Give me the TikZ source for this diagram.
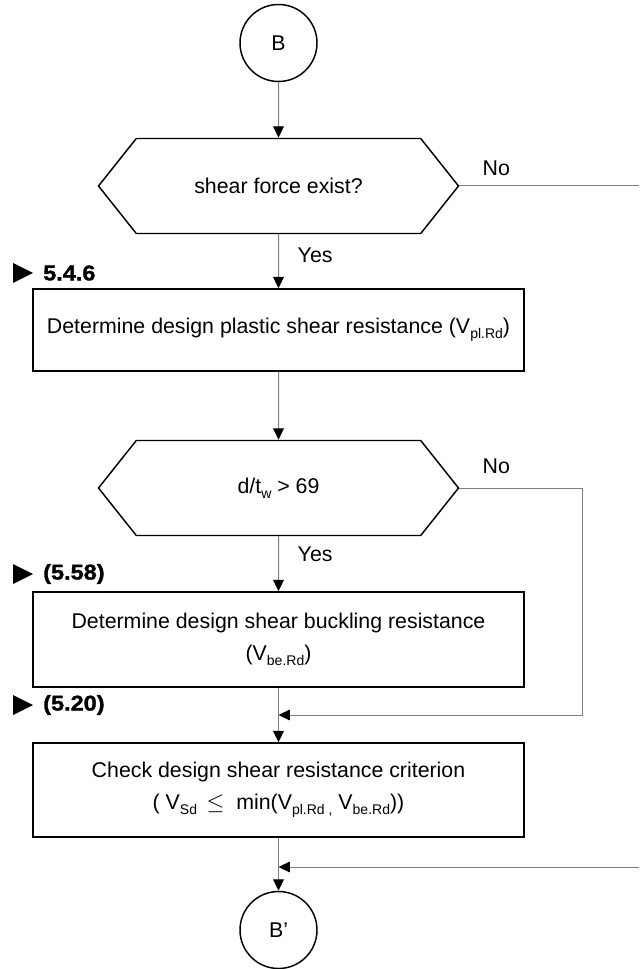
\documentclass[tikz,border=0pt]{standalone}
\usepackage{fontspec}
\setmainfont{Liberation Sans}
\newfontfamily\reffont[FakeStretch=1.1,FakeBold=1.5]{Liberation Sans Bold}
\usetikzlibrary{shapes.symbols,arrows.meta}
\newcommand{\sbs}[1]{\raisebox{-0.45ex}{\fontsize{10.5}{12}\selectfont #1}}

\begin{document}
\begin{tikzpicture}[x=0.75pt,y=-0.75pt,font=\fontsize{16}{24}\selectfont,
    flow/.style={draw=gray,line width=0.75pt,-{Triangle[black,length=8.5pt,width=8pt]}},
    plain/.style={draw=gray,line width=0.75pt},
    term/.style={circle,draw,line width=1.1pt,minimum size=57.75pt,inner sep=0pt},
    proc/.style={rectangle,draw,line width=1.1pt,minimum width=368.25pt,minimum height=61.5pt,align=center,inner sep=0pt},
    test/.style={signal,signal to=east and west,signal pointer angle=103,draw,line width=1.1pt,minimum width=270pt,minimum height=71.25pt,inner sep=0pt},
    reflbl/.style={anchor=west,font=\fontsize{16}{20}\reffont,inner sep=0pt}]
  \useasboundingbox (0,0) rectangle (639,969);
  \node[term] (B) at (278.5,43) {B};
  \node[test] (shear) at (278.5,186) {shear force exist?};
  \node[proc] (plastic) at (278.5,330) {Determine design plastic shear resistance (V\sbs{pl.Rd})};
  \node[test] (ratio) at (278.5,488) {d/t\sbs{w} > 69};
  \node[proc,minimum height=71.25pt] (buckling) at (278.5,639.5) {Determine design shear buckling resistance\\(V\sbs{be.Rd})};
  \node[proc,minimum height=70.5pt] (check) at (278.5,790) {Check design shear resistance criterion\\( V\sbs{Sd} \,$\leq$\ \ min(V\sbs{pl.Rd ,} V\sbs{be.Rd}))};
  \node[term] (Bp) at (278.5,930) {B'};
  \coordinate (noA) at (639,186);
  \coordinate (bend) at (582,715);
  \coordinate (join) at (278.5,715);
  \coordinate (noB) at (639,867);
  \coordinate (merge) at (278.5,867);
  \node[anchor=west] (no1) at (478,168) {No};
  \node[anchor=west] (yes1) at (293,255) {Yes};
  \node[anchor=west] (no2) at (478,466) {No};
  \node[anchor=west] (yes2) at (293,554) {Yes};
  \foreach \y/\t in {273/5.4.6,574/(5.58),705/(5.20)} {
    \fill (13,\y-10) -- ++(0,20) -- ++(20,-10) -- cycle;
    \node[reflbl] (ref\y) at (43,\y) {\t};
  }
  \draw[flow] (B) -- (shear);
  \draw[flow] (shear) -- (plastic);
  \draw[plain] (shear.east) -- (noA);
  \draw[flow] (plastic) -- (ratio);
  \draw[flow] (ratio) -- (buckling);
  \draw[flow] (ratio.east) -| (bend) -- (join);
  \draw[flow] (buckling) -- (check);
  \draw[flow] (noB) -- (merge);
  \draw[flow] (check) -- (Bp);
\end{tikzpicture}
\end{document}
